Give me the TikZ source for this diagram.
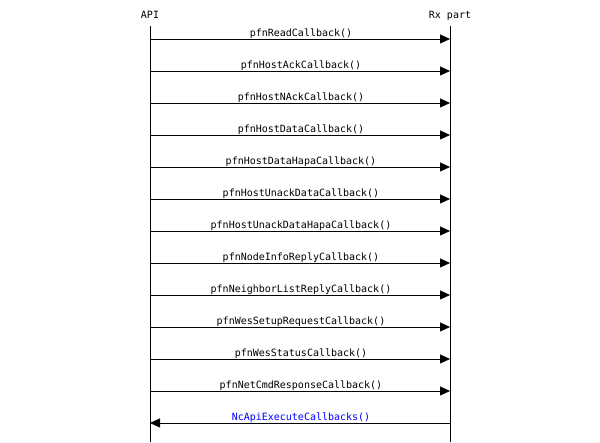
\documentclass[tikz,border=0pt]{standalone}
\usepackage{fontspec}
\setmonofont{DejaVu Sans Mono}
\usetikzlibrary{arrows.meta}
\definecolor{linkblue}{RGB}{0,0,255}
\begin{document}
\begin{tikzpicture}[x=1pt,y=-1pt,
  every node/.style={font=\ttfamily\fontsize{10}{12}\selectfont},
  hdr/.style={inner sep=0pt,anchor=base},
  msg/.style={draw=black,line width=0.8pt,-{Triangle[length=10pt,width=9pt]}},
  lbl/.style={inner sep=0pt,anchor=base}]
\useasboundingbox (0,0) rectangle (600,442);
\node[hdr] (api) at (150,18) {API};
\node[hdr] (rx) at (450,18) {Rx part};
\coordinate (apitop) at (150,26);
\coordinate (rxtop) at (450,26);
\coordinate (apibot) at (150,442);
\coordinate (rxbot) at (450,442);
\draw[line width=0.8pt] (apitop) -- (apibot);
\draw[line width=0.8pt] (rxtop) -- (rxbot);
\foreach \i/\t in {0/pfnReadCallback(),1/pfnHostAckCallback(),2/pfnHostNAckCallback(),3/pfnHostDataCallback(),4/pfnHostDataHapaCallback(),5/pfnHostUnackDataCallback(),6/pfnHostUnackDataHapaCallback(),7/pfnNodeInfoReplyCallback(),8/pfnNeighborListReplyCallback(),9/pfnWesSetupRequestCallback(),10/pfnWesStatusCallback(),11/pfnNetCmdResponseCallback()} {
  \pgfmathsetmacro{\yy}{39+32*\i}
  \coordinate (a\i) at (150,\yy);
  \coordinate (r\i) at (450,\yy);
  \draw[msg] (a\i) -- (r\i);
  \node[lbl] (l\i) at (301,\yy-2.5) {\t};
}
\coordinate (a12) at (150,423);
\coordinate (r12) at (450,423);
\draw[msg] (r12) -- (a12);
\node[lbl,text=linkblue] (l12) at (301,420.5) {NcApiExecuteCallbacks()};
\end{tikzpicture}
\end{document}
